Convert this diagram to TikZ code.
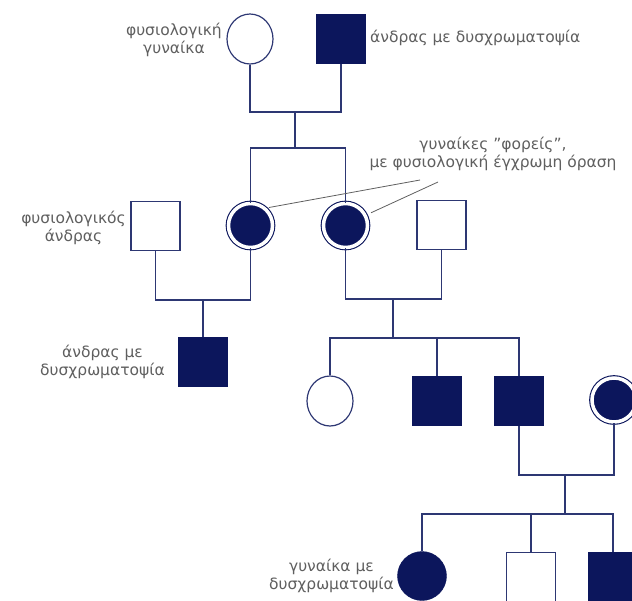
\documentclass[tikz,border=0pt]{standalone}
\usepackage{fontspec}
\setmainfont{DejaVu Sans}
\usetikzlibrary{shapes.geometric}

\definecolor{pedline}{RGB}{45,55,115}
\definecolor{pedfill}{RGB}{12,22,92}
\definecolor{pedtext}{RGB}{95,95,95}

\tikzset{
  male/.style={rectangle, draw=pedline, line width=1.2pt, minimum size=49pt, inner sep=0pt},
  female/.style={ellipse, draw=pedline, line width=1.2pt, minimum width=46pt, minimum height=50pt, inner sep=0pt},
  affected/.style={fill=pedfill, draw=pedfill},
  carrier/.style={circle, draw=pedfill, fill=pedfill, double=white, double distance=3.5pt,
    line width=1.1pt, minimum size=44pt, inner sep=0pt},
  label/.style={text=pedtext, align=center, inner sep=0pt, font=\fontsize{15.5}{17.5}\selectfont},
  pedigree/.style={draw=pedline, line width=1.3pt},
  pointer/.style={draw=pedtext, line width=0.8pt}
}

\begin{document}
\begin{tikzpicture}[x=1pt, y=-1pt]
  \useasboundingbox (0,0) rectangle (632,600);

  \begin{scope}[every node/.style={transform shape}]
    \node[female] (gm) at (250,39) {};
    \node[male, affected] (gf) at (341,39) {};
    \node[male] (hl) at (155.5,226) {};
    \node[carrier] (c1) at (250.5,225.5) {};
    \node[carrier] (c2) at (345.5,225.5) {};
    \node[male] (hr) at (441.5,225) {};
    \node[male, affected] (a1) at (203,362) {};
    \node[female] (d1) at (330,401) {};
    \node[male, affected] (b1) at (437,401) {};
    \node[male, affected] (b2) at (519,401) {};
    \node[carrier] (c3) at (614,400) {};
    \node[circle, affected, minimum size=49pt, inner sep=0pt] (g1) at (422,576) {};
    \node[male] (o1) at (531,577) {};
    \node[male, affected] (b3) at (613,577) {};
  \end{scope}

  \coordinate (m1) at (295,112);
  \coordinate (s1) at (295,148);
  \coordinate (m2) at (203,300);
  \coordinate (m3) at (393,299);
  \coordinate (s3) at (393,338);
  \coordinate (m4) at (565,475);
  \coordinate (s4) at (565,514);

  \begin{scope}[every path/.style={pedigree}]
    \path (gm.south) |- (m1) -| (gf.south);
    \path (m1) -- (s1);
    \path (c1.north) |- (s1) -| (c2.north);
    \path (hl.south) |- (m2) -| (c1.south);
    \path (m2) -- (a1.north);
    \path (c2.south) |- (m3) -| (hr.south);
    \path (m3) -- (s3);
    \path (d1.north) |- (s3) -| (b2.north);
    \path (s3) -| (b1.north);
    \path (b2.south) |- (m4) -| (c3.south);
    \path (m4) -- (s4);
    \path (g1.north) |- (s4) -| (b3.north);
    \path (s4) -| (o1.north);
  \end{scope}

  \begin{scope}[every node/.style={label}]
    \node[anchor=east] (lgm) at (222,40) {φυσιολογική\\γυναίκα};
    \node[anchor=west] (lgf) at (370,38) {άνδρας με δυσχρωματοψία};
    \node[anchor=east] (lhl) at (126,228) {φυσιολογικός\\άνδρας};
    \node[anchor=east] (la1) at (165,362) {άνδρας με\\δυσχρωματοψία};
    \node (lcar) at (493,154) {γυναίκες "φορείς",\\με φυσιολογική έγχρωμη όραση};
    \node[anchor=east] (lg1) at (394,576) {γυναίκα με\\δυσχρωματοψία};
  \end{scope}

  \coordinate (p1) at (420,180);
  \coordinate (p2) at (438,182);
  \path[pointer, shorten <=4pt] (c1.50) -- (p1);
  \path[pointer, shorten <=6pt] (c2.27) -- (p2);
\end{tikzpicture}
\end{document}
